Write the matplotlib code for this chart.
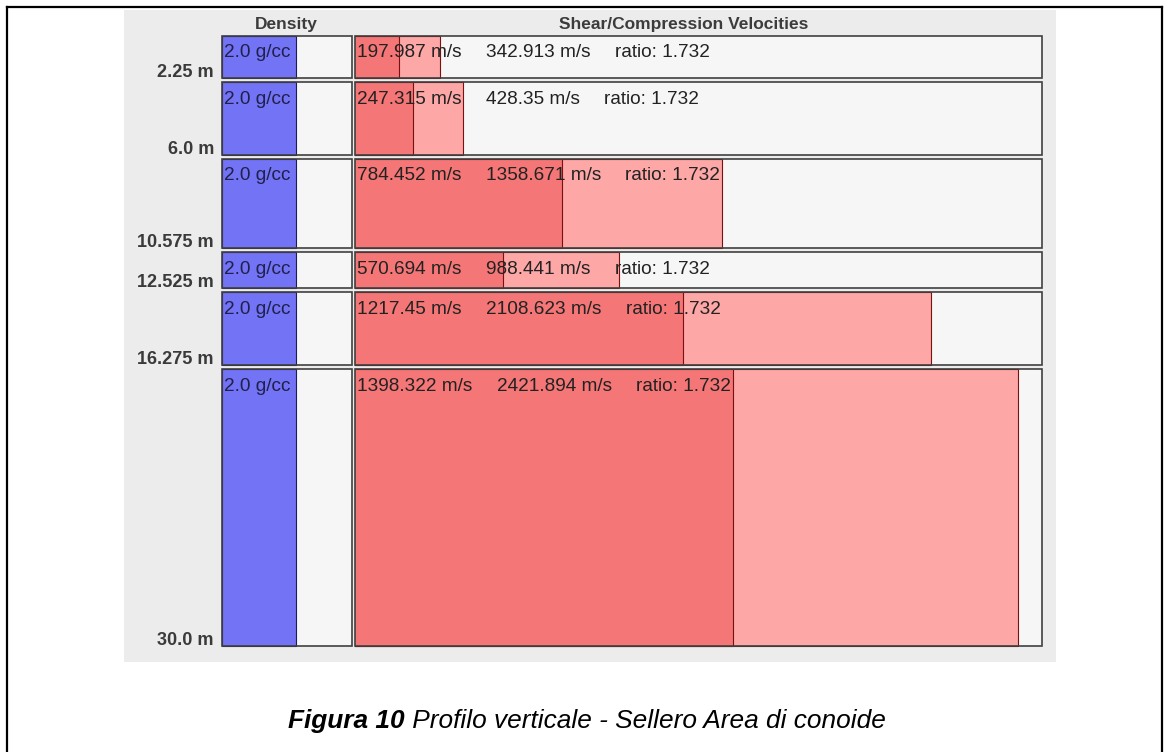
import matplotlib
matplotlib.use("Agg")
import matplotlib.pyplot as plt
from matplotlib.patches import Rectangle
from matplotlib.lines import Line2D

plt.rcParams['font.family'] = ['Liberation Sans', 'DejaVu Sans']

# ---- data read from the profile ----
depth_top = [0.0, 2.25, 6.0, 10.575, 12.525, 16.275]
depth_bottom = [2.25, 6.0, 10.575, 12.525, 16.275, 30.0]
density = [2.0, 2.0, 2.0, 2.0, 2.0, 2.0]
vs = [197.987, 247.315, 784.452, 570.694, 1217.45, 1398.322]
vp = [342.913, 428.35, 1358.671, 988.441, 2108.623, 2421.894]
ratio = [1.732, 1.732, 1.732, 1.732, 1.732, 1.732]

# ---- style ----
W, H = 1169, 752
PANEL = '#ECECEC'
BOX_BG = '#F6F6F6'
BORDER = '#404040'
BLUE = '#7373F5'
VS_COL = '#F47676'
VP_COL = '#FDA7A7'
INSET = 0.1          # metres trimmed off each layer box, leaves the grey gap
FS = 13.7
GAP_PT = 17.6

fig = plt.figure(figsize=(W / 100, H / 100), dpi=100)


def px_axes(x0, y0, x1, y1):
    return fig.add_axes([x0 / W, 1 - y1 / H, (x1 - x0) / W, (y1 - y0) / H])


# page frame and grey panel
for xs, ys in [((7, 7), (0, 745)), ((7, 1162), (745, 745)), ((1162, 1162), (745, 0))]:
    fig.add_artist(Line2D([x / W for x in xs], [y / H for y in ys], color='black',
                          lw=1.6, transform=fig.transFigure))
fig.patches.append(Rectangle((124 / W, 1 - 662 / H), (1056 - 124) / W, (662 - 10) / H,
                             transform=fig.transFigure, facecolor=PANEL, edgecolor='none',
                             zorder=-1))

ax_d = px_axes(222, 34, 352, 648)
ax_v = px_axes(355, 34, 1042, 648)
ax_d.set_xlim(0, 3.5)
ax_v.set_xlim(39, 2509)
for ax in (ax_d, ax_v):
    ax.set_ylim(30, 0)
    ax.axis('off')
    ax.patch.set_visible(False)

for i in range(len(depth_top)):
    top = depth_top[i] + INSET
    h = depth_bottom[i] - depth_top[i] - 2 * INSET
    for ax in (ax_d, ax_v):
        ax.add_patch(Rectangle((0, top), 1, h, transform=ax.get_yaxis_transform(),
                               facecolor=BOX_BG, edgecolor='none', zorder=1))
        ax.add_patch(Rectangle((0, top), 1, h, transform=ax.get_yaxis_transform(),
                               facecolor='none', edgecolor=BORDER, lw=1.2, zorder=4,
                               clip_on=False))
    ax_d.barh(top, density[i], height=h, align='edge', left=0, color=BLUE,
              edgecolor='#1c1c5c', lw=0.8, zorder=2)
    ax_v.barh(top, vp[i], height=h, align='edge', left=0, color=VP_COL,
              edgecolor='#7a1010', lw=0.8, zorder=2)
    ax_v.barh(top, vs[i], height=h, align='edge', left=0, color=VS_COL,
              edgecolor='#7a1010', lw=0.8, zorder=3)

    # texts inside the layer boxes
    ax_d.annotate(f"{density[i]} g/cc", xy=(0, depth_top[i]),
                  xycoords=ax_d.get_yaxis_transform(), xytext=(1.4, -16.9),
                  textcoords='offset points', ha='left', va='baseline',
                  fontsize=FS, color='#20204a', zorder=5)
    t1 = ax_v.annotate(f"{vs[i]} m/s", xy=(0, depth_top[i]),
                       xycoords=ax_v.get_yaxis_transform(), xytext=(1.4, -16.9),
                       textcoords='offset points', ha='left', va='baseline',
                       fontsize=FS, color='#222222', zorder=5)
    t2 = ax_v.annotate(f"{vp[i]} m/s", xy=(1, 0), xycoords=t1, xytext=(GAP_PT, 0),
                       textcoords='offset points', ha='left', va='bottom',
                       fontsize=FS, color='#222222', zorder=5)
    ax_v.annotate(f"ratio: {ratio[i]}", xy=(1, 0), xycoords=t2, xytext=(GAP_PT, 0),
                  textcoords='offset points', ha='left', va='bottom',
                  fontsize=FS, color='#222222', zorder=5)

    # depth of the layer base, left of the density column
    ax_d.annotate(f"{depth_bottom[i]} m", xy=(0, depth_bottom[i]),
                  xycoords=ax_d.get_yaxis_transform(), xytext=(-5.8, 2.2),
                  textcoords='offset points', ha='right', va='baseline',
                  fontsize=13.1, fontweight='bold', color='#3a3a3a',
                  annotation_clip=False)

fig.text(286 / W, 1 - 29.5 / H, 'Density', ha='center', va='baseline',
         fontsize=12.5, fontweight='bold', color='#3c3c3c')
fig.text(683.5 / W, 1 - 29.5 / H, 'Shear/Compression Velocities', ha='center',
         va='baseline', fontsize=12.5, fontweight='bold', color='#3c3c3c')

# caption
cap = fig.text(288 / W, 1 - 728 / H, 'Figura 10', ha='left', va='baseline',
               fontsize=18.9, fontweight='bold', fontstyle='italic', color='black')
ax_d.annotate(' Profilo verticale - Sellero Area di conoide', xy=(1, 0), xycoords=cap,
              xytext=(0, 0), textcoords='offset points', ha='left', va='bottom',
              fontsize=18.9, fontstyle='italic', color='black', annotation_clip=False)

fig.savefig('out.png', dpi=100)
